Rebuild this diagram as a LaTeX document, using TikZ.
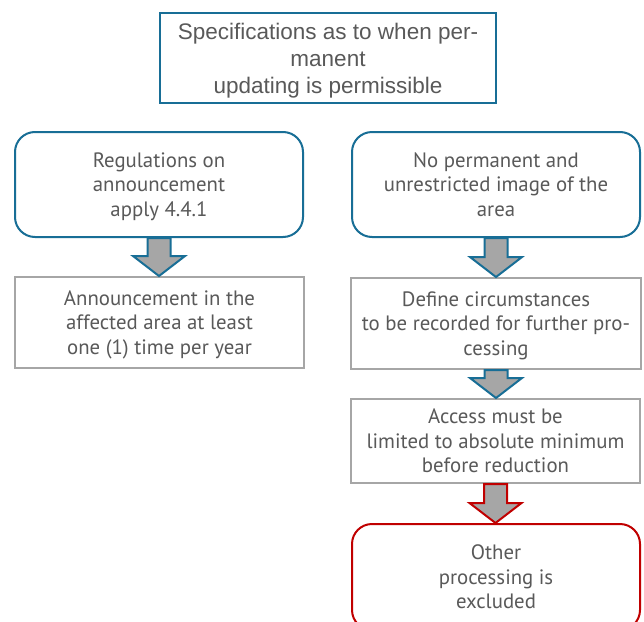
\documentclass[tikz,border=0pt]{standalone}
\usepackage{fontspec}
\setmainfont{PT Sans}
\newfontfamily\headfont{Liberation Sans}
\usetikzlibrary{calc}
\definecolor{frameblue}{RGB}{24,110,150}
\definecolor{framered}{RGB}{192,0,0}
\definecolor{framegray}{RGB}{166,166,166}
\definecolor{textgray}{RGB}{89,89,89}
\definecolor{arrowgray}{RGB}{166,166,166}
\tikzset{
  box/.style={draw, line width=2pt, fill=white, inner sep=0pt, align=center,
    text=textgray, text depth=0pt, font=\fontsize{20.8}{24.5}\selectfont},
  headbox/.style={box, draw=frameblue, text depth=-3pt,
    font=\headfont\fontsize{22.5}{27}\selectfont},
  roundbox/.style={box, draw=frameblue, rounded corners=20pt},
  redbox/.style={box, draw=framered, rounded corners=20pt},
  plainbox/.style={box, draw=framegray},
  blockarrow/.style={fill=arrowgray, line width=2pt, line join=miter}
}
% block arrow from the bottom of #1 to the top of #2, outlined in #3
\newcommand\flowarrow[3]{%
  \path[blockarrow, draw=#3] let \p1=(#1.south), \p2=(#2.north) in
    (\x1-11.5pt,\y1) -- (\x1+11.5pt,\y1) -- (\x1+11.5pt,\y2+20pt)
    -- (\x1+26pt,\y2+20pt) -- (\x1,\y2) -- (\x1-26pt,\y2+20pt)
    -- (\x1-11.5pt,\y2+20pt) -- cycle;}
\begin{document}
\begin{tikzpicture}[x=1pt,y=-1pt]
\useasboundingbox (0,0) rectangle (644,621);
\clip (0,0) rectangle (644,621);
\fill[white] (0,0) rectangle (644,621);

\node[headbox, minimum width=336pt, minimum height=90pt] (spec) at (328,58)
  {Specifications as to when per-\\manent\\updating is permissible};

\node[roundbox, minimum width=288pt, minimum height=105pt] (reg) at (159,184.5)
  {Regulations on\\announcement\\apply 4.4.1};
\node[plainbox, minimum width=289pt, minimum height=91pt] (ann) at (159.5,322.5)
  {Announcement in the\\affected area at least\\one (1) time per year};

\node[roundbox, minimum width=288pt, minimum height=105pt] (noimg) at (496,184.5)
  {No permanent and\\unrestricted image of the\\area};
\node[plainbox, minimum width=290pt, minimum height=91pt] (define) at (496,323.5)
  {Define circumstances\\to be recorded for further pro-\\cessing};
\node[plainbox, minimum width=289pt, minimum height=84pt] (access) at (495.5,441)
  {Access must be\\limited to absolute minimum\\before reduction};
\node[redbox, minimum width=288pt, minimum height=106pt] (other) at (496,577)
  {Other\\processing is\\excluded};

\flowarrow{reg}{ann}{frameblue}
\flowarrow{noimg}{define}{frameblue}
\flowarrow{define}{access}{frameblue}
\flowarrow{access}{other}{framered}
\end{tikzpicture}
\end{document}
